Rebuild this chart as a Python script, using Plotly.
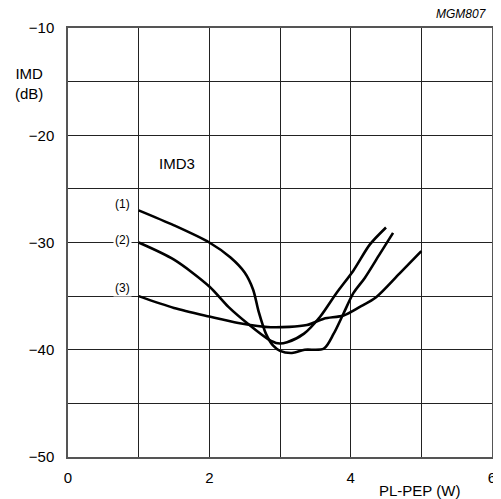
import plotly.graph_objects as go

# Curve (1)
x1 = [1.0, 1.5, 2.0, 2.3, 2.5, 2.62, 2.7, 2.8, 2.9, 3.0, 3.17, 3.35, 3.62, 3.76, 3.9, 4.04, 4.2, 4.4, 4.6]
y1 = [-27.0, -28.4, -30.0, -31.4, -32.8, -34.4, -36.5, -38.5, -39.6, -40.1, -40.3, -40.0, -39.9, -38.5, -36.6, -34.7, -33.3, -31.2, -29.1]
# Curve (2)
x2 = [1.0, 1.5, 2.0, 2.27, 2.55, 2.83, 2.97, 3.1, 3.34, 3.57, 3.8, 4.04, 4.27, 4.5]
y2 = [-30.0, -31.6, -34.1, -36.0, -37.6, -39.0, -39.4, -39.3, -38.5, -36.9, -34.7, -32.6, -30.2, -28.6]
# Curve (3)
x3 = [1.0, 1.5, 2.0, 2.41, 2.87, 3.38, 3.62, 3.9, 4.13, 4.36, 4.69, 5.0]
y3 = [-35.0, -36.1, -36.9, -37.5, -37.9, -37.7, -37.1, -36.8, -36.0, -35.1, -32.9, -30.8]

curve_labels = ["(1)", "(2)", "(3)"]
label_y = [-26.4, -29.8, -34.2]

x_tickvals = [0, 1, 2, 3, 4, 5, 6]
x_ticktext = ["0", "", "2", "", "4", "", "6"]
y_tickvals = [-50, -45, -40, -35, -30, -25, -20, -15, -10]
y_ticktext = ["\u221250", "", "\u221240", "", "\u221230", "", "\u221220", "", "\u221210"]

FONT = "Liberation Sans, Arial, sans-serif"

fig = go.Figure()
for xs, ys in [(x1, y1), (x2, y2), (x3, y3)]:
    fig.add_trace(go.Scatter(x=xs, y=ys, mode="lines",
                             line=dict(color="black", width=2.6, shape="spline", smoothing=0.8),
                             showlegend=False, hoverinfo="skip"))

for t, yv in zip(curve_labels, label_y):
    fig.add_annotation(x=0.77, y=yv, text=t, showarrow=False, bgcolor="white",
                       font=dict(family=FONT, size=12, color="black"), borderpad=1)

fig.add_annotation(x=1.54, y=-22.6, text="IMD3", showarrow=False,
                   font=dict(family=FONT, size=15, color="black"))
fig.add_annotation(xref="paper", yref="paper", x=1.0, y=1.0, yshift=14, xshift=-3,
                   xanchor="right", yanchor="middle",
                   text="<i>MGM807</i>", showarrow=False,
                   font=dict(family=FONT, size=12, color="black"))
fig.add_annotation(xref="paper", yref="paper", x=-0.093, y=0.87, xanchor="center", yanchor="middle",
                   text="IMD<br>(dB)", showarrow=False,
                   font=dict(family=FONT, size=15, color="black"))
fig.add_annotation(xref="paper", yref="paper", x=0.828, y=0, yshift=-33, xanchor="center", yanchor="middle",
                   text="PL-PEP (W)", showarrow=False,
                   font=dict(family=FONT, size=15, color="black"))

fig.update_xaxes(range=[0, 6], tickvals=x_tickvals, ticktext=x_ticktext,
                 showgrid=True, gridcolor="#222", gridwidth=1,
                 showline=True, linecolor="#555", linewidth=1.5, mirror=True,
                 ticks="", zeroline=False, ticklabelstandoff=6,
                 tickfont=dict(family=FONT, size=15, color="black"))
fig.update_yaxes(range=[-50, -10], tickvals=y_tickvals, ticktext=y_ticktext,
                 showgrid=True, gridcolor="#222", gridwidth=1,
                 showline=True, linecolor="#555", linewidth=1.5, mirror=True,
                 ticks="", zeroline=False, ticklabelstandoff=9,
                 tickfont=dict(family=FONT, size=15, color="black"))

# page body adds an 8px offset, so the figure is 8px smaller
fig.update_layout(width=493, height=491, margin=dict(l=60, r=5, t=20, b=42),
                  plot_bgcolor="white", paper_bgcolor="white")

fig.write_html("out.html")
